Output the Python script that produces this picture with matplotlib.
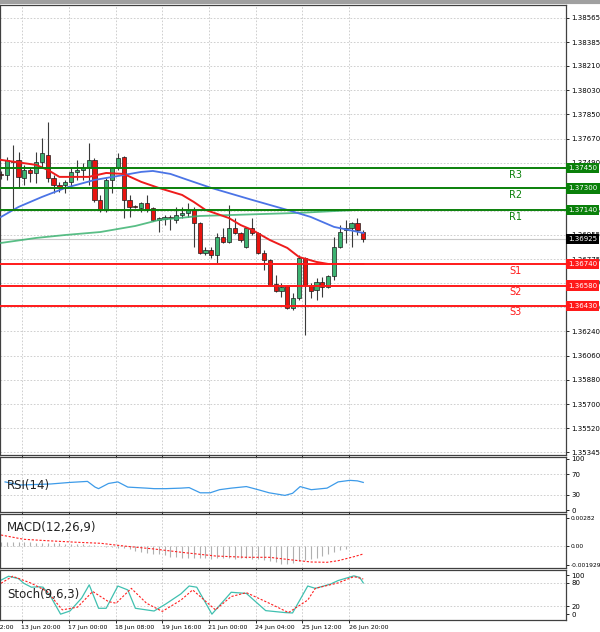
import matplotlib
matplotlib.use("Agg")
import matplotlib.pyplot as plt
import matplotlib.transforms as mtransforms
import numpy as np

# ---------------- data ----------------
opens = [1.37408,1.37400,1.37497,1.37512,1.37378,1.37438,1.37415,1.37497,1.37549,1.37378,
         1.37326,1.37326,1.37349,1.37423,1.37438,1.37460,1.37512,1.37215,1.37141,1.37363,
         1.37452,1.37534,1.37215,1.37170,1.37156,1.37193,1.37156,1.37066,1.37074,1.37089,
         1.37066,1.37104,1.37119,1.37141,1.37044,1.36822,1.36844,1.36807,1.36940,1.36903,
         1.37007,1.36970,1.36866,1.37007,1.36970,1.36822,1.36770,1.36592,1.36540,1.36577,
         1.36414,1.36488,1.36785,1.36585,1.36547,1.36607,1.36570,1.36651,1.36866,1.36992,
         1.37007,1.37044,1.36977]
highs = [1.37430,1.37534,1.37623,1.37571,1.37475,1.37452,1.37571,1.37675,1.37794,1.37400,
         1.37349,1.37363,1.37460,1.37512,1.37490,1.37638,1.37527,1.37252,1.37378,1.37460,
         1.37564,1.37541,1.37252,1.37178,1.37200,1.37252,1.37163,1.37089,1.37104,1.37104,
         1.37163,1.37163,1.37193,1.37163,1.37051,1.36866,1.36866,1.36970,1.37007,1.37178,
         1.37081,1.36977,1.37015,1.37081,1.36977,1.36844,1.36777,1.36659,1.36599,1.36585,
         1.36525,1.36807,1.36792,1.36599,1.36636,1.36644,1.36659,1.36940,1.37029,1.37066,
         1.37051,1.37081,1.36992]
lows = [1.37370,1.37363,1.37141,1.37311,1.37326,1.37349,1.37341,1.37460,1.37349,1.37267,
        1.37275,1.37267,1.37304,1.37363,1.37363,1.37326,1.37200,1.37126,1.37126,1.37267,
        1.37438,1.37081,1.37089,1.37156,1.37126,1.37126,1.37060,1.36977,1.37029,1.36992,
        1.37044,1.37081,1.37089,1.36866,1.36815,1.36807,1.36785,1.36748,1.36896,1.36896,
        1.36963,1.36903,1.36859,1.36955,1.36815,1.36696,1.36577,1.36533,1.36496,1.36407,
        1.36399,1.36473,1.36213,1.36488,1.36473,1.36496,1.36562,1.36621,1.36859,1.36896,
        1.36866,1.36955,1.36903]
closes = [1.37400,1.37512,1.37504,1.37386,1.37438,1.37415,1.37497,1.37564,1.37378,1.37326,
          1.37311,1.37349,1.37423,1.37438,1.37460,1.37512,1.37215,1.37141,1.37363,1.37452,
          1.37527,1.37215,1.37163,1.37163,1.37193,1.37141,1.37066,1.37081,1.37089,1.37081,
          1.37104,1.37119,1.37141,1.37044,1.36822,1.36844,1.36807,1.36940,1.36903,1.37007,
          1.36970,1.36918,1.37007,1.36970,1.36822,1.36770,1.36585,1.36540,1.36570,1.36414,
          1.36488,1.36785,1.36585,1.36540,1.36607,1.36570,1.36651,1.36866,1.36977,1.37007,
          1.37044,1.36992,1.36925]

ma_red_x = [0,6,8,10,15,18,21,24,27,31,33,35,39,41,43,46,49,51,54,56,62]
ma_red_y = [1.37512,1.37475,1.37438,1.37386,1.37386,1.37415,1.37408,1.37349,1.37304,1.37252,
            1.37200,1.37141,1.37081,1.37029,1.36992,1.36918,1.36859,1.36792,1.36755,1.36740,1.36740]
ma_blue_x = [0,3,7,11,16,21,24,26,29,32,36,43,49,53,57,62]
ma_blue_y = [1.37089,1.37163,1.37237,1.37304,1.37363,1.37400,1.37423,1.37430,1.37408,1.37363,
             1.37304,1.37215,1.37141,1.37089,1.37015,1.36970]
ma_green_x = [0,6,11,17,23,27,34,40,51,61]
ma_green_y = [1.36896,1.36933,1.36955,1.36977,1.37022,1.37066,1.37096,1.37104,1.37119,1.37141]

levels_names = ["R3", "R2", "R1", "S1", "S2", "S3"]
levels_values = [1.3745, 1.3730, 1.3714, 1.3674, 1.3658, 1.3643]
last_price = 1.36925

price_ticks = [1.38565,1.38385,1.38210,1.38030,1.37850,1.37670,1.37490,1.37310,1.37135,
               1.36955,1.36775,1.36600,1.36420,1.36240,1.36060,1.35880,1.35700,1.35520,1.35345]

rsi_x = [0.7,3.3,8.5,11.8,14.8,16.1,16.7,18.4,20,21.7,24.9,26.2,28.2,30.8,32.2,34.1,35.8,
         37.4,39.4,42,44,45.9,48.6,49.9,51.2,53.1,55.8,57.7,59.7,61,62]
rsi_y = [55,49,51,54,56,45,42,52,55,45,43,42,42,43,44,34,34,40,43,46,40,34,29,33,46,40,43,
         55,58,57,54]

macd_sig_x = [0,3.9,7.9,13.1,17.1,21,26.2,31.5,36.7,42,45.9,49.9,53.1,55.8,57.7,60.4,62]
macd_sig_y = [0.0011,0.00067,0.00053,0.00037,0.00027,0.0,-0.0003,-0.00067,-0.001,-0.00113,
              -0.00113,-0.0014,-0.0016,-0.00163,-0.00147,-0.00107,-0.0008]
macd_hist = [0.0004,0.0004,0.0004,0.0004,0.0004,0.0004,0.0003,0.0003,0.0003,0.0003,
             0.0003,0.0002,0.0002,0.0002,0.0002,0.0001,0.0001,0.0,-0.0001,-0.0001,
             -0.0002,-0.0002,-0.0003,-0.0005,-0.0006,-0.0007,-0.0008,-0.0008,-0.0009,-0.0011,
             -0.0011,-0.0012,-0.0012,-0.0012,-0.0012,-0.0012,-0.0013,-0.0012,-0.0012,-0.0012,
             -0.0013,-0.0012,-0.0012,-0.0013,-0.0013,-0.0014,-0.0015,-0.0016,-0.0018,-0.0018,
             -0.0017,-0.0015,-0.0014,-0.0013,-0.0012,-0.0010,-0.0008,-0.0006,-0.0004,-0.0003]

stoch_x = [0,1.3,3,3.9,5.2,6.6,7.2,8.5,10.2,11.8,13.8,15.1,16.7,18,20,21.7,23,26.2,28.2,30.8,
           32.2,33.5,36.1,39.4,42,45.3,48.6,49.9,52.5,53.8,56.4,57.7,60.4,61.4,62]
stoch_k = [87,97,91,79,69,70,69,45,0,8,41,75,15,15,72,62,15,8,26,52,72,69,0,56,53,9,4,3,72,
           66,77,86,98,94,80]
stoch_sx = [0,2,5.2,7.9,10.5,13.1,15.7,18.4,19.7,22.3,24.9,27.6,30.8,32.8,35.4,36.7,39.4,
            42,45.9,49.2,52.5,53.8,57.7,60.4,62]
stoch_d = [79,97,79,58,11,18,58,32,28,66,28,7,36,62,28,11,45,55,28,4,36,66,80,96,90]

date_pos = [-4.45,3.6,11.6,19.6,27.6,35.6,43.6,51.6,59.6]
date_labels = ["13 Jun 12:00","13 Jun 20:00","17 Jun 00:00","18 Jun 08:00","19 Jun 16:00",
               "21 Jun 00:00","24 Jun 04:00","25 Jun 12:00","26 Jun 20:00"]

# ---------------- figure ----------------
W, H = 600, 632
fig = plt.figure(figsize=(W/100, H/100), dpi=100)
fig.patch.set_facecolor("white")

def pax(top, bottom):
    return fig.add_axes([0.0, 1 - bottom/H, 566/W, (bottom-top)/H])

ax = pax(5, 455)
ax_rsi = pax(457, 512)
ax_macd = pax(514, 568)
ax_st = pax(570, 620)

XMIN, XMAX = -0.17, 96.7
grid_kw = dict(color="#c8c8c8", linestyle=(0, (2, 2)), linewidth=0.6)
LS = 5.0

for a in (ax, ax_rsi, ax_macd, ax_st):
    a.yaxis.tick_right()
    a.tick_params(axis="y", labelsize=LS, length=2.5, pad=1.5, width=0.6)
    a.set_xticks(date_pos)
    a.tick_params(axis="x", length=2.5, width=0.6)
    a.set_xticklabels([])
    for s in a.spines.values():
        s.set_color("#404040")
        s.set_linewidth(0.9)
    a.set_facecolor("white")
    for xp in date_pos[1:]:
        a.axvline(xp, **grid_kw, zorder=0)

# main panel
ax.set_yticks(price_ticks)
ax.set_yticklabels(["%.5f" % v for v in price_ticks])
for v in price_ticks:
    ax.axhline(v, **grid_kw, zorder=0)

n = len(opens)
xs = np.arange(n)
for i in range(n):
    o, h, l, c = opens[i], highs[i], lows[i], closes[i]
    up = c >= o
    ax.vlines(xs[i], l, h, color="#3a3a3a", linewidth=0.8, zorder=3)
    bot, top = min(o, c), max(o, c)
    ht = max(top - bot, 0.000015)
    ax.bar(xs[i], ht, bottom=bot, width=0.72,
           color="#3cb371" if up else "#e8140f",
           edgecolor="#1e1e1e", linewidth=0.5, zorder=4)

ax.plot(ma_green_x, ma_green_y, color="#3cb371", linewidth=1.3, alpha=0.85, zorder=5)
ax.plot(ma_blue_x, ma_blue_y, color="#4b74e6", linewidth=1.3, zorder=5)
ax.plot(ma_red_x, ma_red_y, color="#ee1c1c", linewidth=1.4, zorder=5)

ax.axhline(last_price, color="#c8c8c8", linewidth=0.8, zorder=2)
trans = mtransforms.blended_transform_factory(ax.transAxes, ax.transData)
for name, v in zip(levels_names, levels_values):
    col = "#0a800a" if name.startswith("R") else "#ff1a1a"
    ax.axhline(v, color=col, linewidth=1.4, zorder=6)
    ax.text(88, v - 0.00012, name, color=col, fontsize=7, ha="center", va="top", zorder=7)
    ax.text(1.004, v, "%.5f" % v, transform=trans, fontsize=LS, color="white",
            va="center", ha="left", zorder=20, clip_on=False,
            bbox=dict(boxstyle="square,pad=0.3", fc=col, ec="none"))
ax.text(1.004, last_price, "%.5f" % last_price, transform=trans, fontsize=LS, color="white",
        va="center", ha="left", zorder=20, clip_on=False,
        bbox=dict(boxstyle="square,pad=0.3", fc="black", ec="none"))
ax.set_ylim(1.35323, 1.38661)

# RSI
ax_rsi.set_yticks([100, 70, 30, 0])
ax_rsi.set_yticklabels(["100", "70", "30", "0"])
ax_rsi.set_ylim(-3, 103)
for v in (70, 30):
    ax_rsi.axhline(v, **grid_kw, zorder=0)
ax_rsi.plot(rsi_x, rsi_y, color="#3d9be9", linewidth=0.9)
ax_rsi.text(1, 48, "RSI(14)", fontsize=8.5, va="center", color="#222222")

# MACD
ax_macd.set_yticks([0.00282, 0.0, -0.001929])
ax_macd.set_yticklabels(["0.00282", "0.00", "-0.001929"])
ax_macd.tick_params(axis="y", labelsize=4.3, pad=1.0)
ax_macd.set_ylim(-0.0022, 0.0032)
ax_macd.axhline(0.0, **grid_kw, zorder=0)
ax_macd.vlines(np.arange(len(macd_hist)), 0, macd_hist, color="#b0b0b0", linewidth=0.8)
ax_macd.plot(macd_sig_x, macd_sig_y, color="#ff2020", linewidth=0.8, linestyle=(0, (2, 1.5)))
ax_macd.text(1, 0.0019, "MACD(12,26,9)", fontsize=8.5, va="center", color="#222222")

# Stoch
ax_st.set_yticks([100, 80, 20, 0])
ax_st.set_yticklabels(["100", "80", "20", "0"])
ax_st.set_ylim(-15, 113)
for v in (80, 20):
    ax_st.axhline(v, **grid_kw, zorder=0)
ax_st.plot(stoch_x, stoch_k, color="#40c0b0", linewidth=0.9)
ax_st.plot(stoch_sx, stoch_d, color="#ff2020", linewidth=0.8, linestyle=(0, (2, 1.5)))
ax_st.text(1, 50, "Stoch(9,6,3)", fontsize=8.5, va="center", color="#222222")

for a in (ax, ax_rsi, ax_macd, ax_st):
    a.set_xlim(XMIN, XMAX)

# date labels
bt = mtransforms.blended_transform_factory(ax_st.transData, ax_st.transAxes)
for p, lab in zip(date_pos, date_labels):
    ax_st.annotate(lab, xy=(p, 0), xycoords=bt, xytext=(-0.5, -3.5), textcoords="offset points",
                   fontsize=4.5, ha="left", va="top", annotation_clip=False)

# top border
fig.add_artist(plt.Line2D([0, 1], [1 - 2/H, 1 - 2/H], color="#a0a0a0", linewidth=3,
                          transform=fig.transFigure))

fig.savefig("out.png", dpi=100, facecolor="white")
